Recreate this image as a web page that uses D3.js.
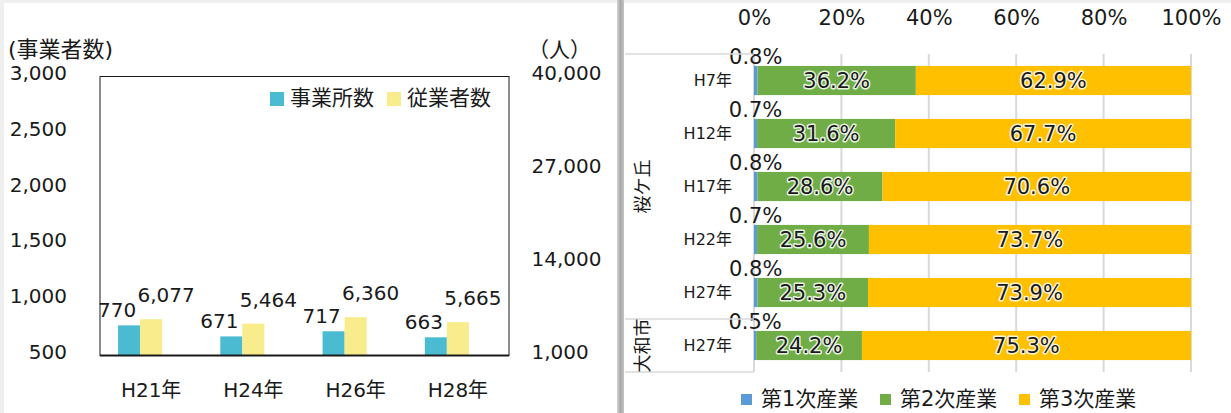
<!DOCTYPE html>
<html>
<head>
<meta charset="utf-8">
<script src="https://cdn.jsdelivr.net/npm/d3@7"></script>
<style>
  body { margin: 0; background: #fff; }
  svg { display: block; font-family: "DejaVu Sans", "Noto Sans CJK JP", sans-serif; }
</style>
</head>
<body>
<svg id="chart" width="1231" height="413"></svg>
<script>
// left chart: establishments / employees
var estCats = ['H21年', 'H24年', 'H26年', 'H28年'];
var establishments = [770, 671, 717, 663];
var employees = [6077, 5464, 6360, 5665];
var leftTicks = [500, 1000, 1500, 2000, 2500, 3000];
var rightTicks = [1000, 14000, 27000, 40000];

// right chart: industry shares
var areaGroups = ['桜ケ丘', '桜ケ丘', '桜ケ丘', '桜ケ丘', '桜ケ丘', '大和市'];
var yearLabels = ['H7年', 'H12年', 'H17年', 'H22年', 'H27年', 'H27年'];
var primary = [0.8, 0.7, 0.8, 0.7, 0.8, 0.5];
var secondary = [36.2, 31.6, 28.6, 25.6, 25.3, 24.2];
var tertiary = [62.9, 67.7, 70.6, 73.7, 73.9, 75.3];
var industryNames = ['第1次産業', '第2次産業', '第3次産業'];
var pctTicks = [0, 20, 40, 60, 80, 100];

var svg = d3.select('#chart');
var defs = svg.append('defs');

// frame / background strips
svg.append('rect').attr('x', 0).attr('y', 0).attr('width', 1231).attr('height', 3).attr('fill', '#efefef');
svg.append('rect').attr('x', 0).attr('y', 0).attr('width', 4).attr('height', 413).attr('fill', '#efefef');
var grad = defs.append('linearGradient').attr('id', 'divider');
grad.append('stop').attr('offset', '0%').attr('stop-color', '#d4d4d4');
grad.append('stop').attr('offset', '50%').attr('stop-color', '#a9a9a9');
grad.append('stop').attr('offset', '100%').attr('stop-color', '#c4c4c4');
svg.append('rect').attr('x', 617).attr('y', 0).attr('width', 7).attr('height', 413).attr('fill', 'url(#divider)');

/* ---------- left chart ---------- */
var L = {left: 100, right: 509, top: 76.5, bottom: 355.5};
var x0 = d3.scaleBand().domain(estCats).range([L.left, L.right]).padding(0);
var x1 = d3.scaleBand().domain(['est', 'emp', 'spare']).range([0, x0.bandwidth()]).paddingInner(0).paddingOuter(0.82);
var yL = d3.scaleLinear().domain([500, 3000]).range([L.bottom, L.top]);
var yR = d3.scaleLinear().domain([1000, 40000]).range([L.bottom, L.top]);

var left = svg.append('g');
left.append('rect')
    .attr('x', L.left).attr('y', L.top)
    .attr('width', L.right - L.left).attr('height', L.bottom - L.top)
    .attr('fill', 'none').attr('stroke', '#1a1a1a').attr('stroke-width', 1);

var groups = left.selectAll('.grp').data(estCats).enter().append('g')
    .attr('transform', function (d) { return 'translate(' + x0(d) + ',0)'; });

groups.append('rect')
    .attr('x', x1('est')).attr('width', x1.bandwidth())
    .attr('y', function (d, i) { return yL(establishments[i]); })
    .attr('height', function (d, i) { return L.bottom - yL(establishments[i]); })
    .attr('fill', '#4bbbd1');
groups.append('rect')
    .attr('x', x1('emp')).attr('width', x1.bandwidth())
    .attr('y', function (d, i) { return yR(employees[i]); })
    .attr('height', function (d, i) { return L.bottom - yR(employees[i]); })
    .attr('fill', '#f8ec8c');

var fmt = d3.format(',');
groups.append('text')
    .attr('x', x1('est') + x1.bandwidth() / 2 - 12)
    .attr('y', function (d, i) { return yL(establishments[i]) - 8; })
    .attr('text-anchor', 'middle').attr('font-size', 20).attr('fill', '#1a1a1a')
    .text(function (d, i) { return fmt(establishments[i]); });
groups.append('text')
    .attr('x', x1('emp') + x1.bandwidth() / 2 + 15)
    .attr('y', function (d, i) { return yR(employees[i]) - 17; })
    .attr('text-anchor', 'middle').attr('font-size', 20).attr('fill', '#1a1a1a')
    .text(function (d, i) { return fmt(employees[i]); });

left.append('line')
    .attr('x1', L.left).attr('x2', L.right).attr('y1', L.bottom).attr('y2', L.bottom)
    .attr('stroke', '#1a1a1a').attr('stroke-width', 2);

function styleAxis(g, size) {
    g.select('.domain').remove();
    g.selectAll('.tick line').remove();
    g.selectAll('text').attr('font-size', size).attr('fill', '#1a1a1a')
        .attr('font-family', '"DejaVu Sans", "Noto Sans CJK JP", sans-serif');
}

left.append('g').attr('transform', 'translate(' + L.left + ',-3.5)')
    .call(d3.axisLeft(yL).tickValues(leftTicks).tickSize(0).tickPadding(33).tickFormat(fmt))
    .call(styleAxis, 20);
left.append('g').attr('transform', 'translate(' + L.right + ',-3.5)')
    .call(d3.axisRight(yR).tickValues(rightTicks).tickSize(0).tickPadding(22.5).tickFormat(fmt))
    .call(styleAxis, 20);
left.append('g').attr('transform', 'translate(0,' + (L.bottom - 2) + ')')
    .call(d3.axisBottom(x0).tickSize(0).tickPadding(29))
    .call(styleAxis, 20);

left.append('text').attr('x', 8).attr('y', 57).attr('font-size', 22).attr('fill', '#1a1a1a').text('(事業者数)');
left.append('text').attr('x', 528).attr('y', 57).attr('font-size', 21).attr('fill', '#1a1a1a').text('（人）');

// legend
var legL = [{name: '事業所数', color: '#4bbbd1', x: 270}, {name: '従業者数', color: '#f8ec8c', x: 387}];
var lg = left.selectAll('.leg').data(legL).enter().append('g')
    .attr('transform', function (d) { return 'translate(' + d.x + ',92)'; });
lg.append('rect').attr('width', 14).attr('height', 14).attr('fill', function (d) { return d.color; });
lg.append('text').attr('x', 20).attr('y', 13).attr('font-size', 21).attr('fill', '#1a1a1a')
    .text(function (d) { return d.name; });

/* ---------- right chart ---------- */
var R = {left: 754, right: 1191, top: 54, bottom: 372, labelLeft: 625};
var rows = d3.range(yearLabels.length);
var xP = d3.scaleLinear().domain([0, 1]).range([R.left, R.right]);
var yB = d3.scaleBand().domain(rows).range([R.top, R.bottom]).paddingInner(0.45).paddingOuter(0.225);
var colors = ['#5b9bd5', '#70ad47', '#ffc000'];

var right = svg.append('g');

// gridlines
right.selectAll('.grid').data(pctTicks).enter().append('line')
    .attr('x1', function (d) { return xP(d / 100); }).attr('x2', function (d) { return xP(d / 100); })
    .attr('y1', R.top).attr('y2', R.bottom)
    .attr('stroke', '#d9d9d9').attr('stroke-width', 2);

right.append('g').attr('transform', 'translate(0,' + R.top + ')')
    .call(d3.axisTop(xP).tickValues(pctTicks.map(function (d) { return d / 100; }))
        .tickSize(0).tickPadding(29).tickFormat(d3.format('.0%')))
    .call(styleAxis, 21);

// stacked data
var table = rows.map(function (i) {
    return {row: i, p1: primary[i], p2: secondary[i], p3: tertiary[i]};
});
var keys = ['p1', 'p2', 'p3'];
var raw = {p1: primary, p2: secondary, p3: tertiary};
var stacked = d3.stack().keys(keys).offset(d3.stackOffsetExpand)(table);

var layers = right.selectAll('.layer').data(stacked).enter().append('g')
    .attr('fill', function (d, i) { return colors[i]; });
layers.selectAll('rect').data(function (d) { return d; }).enter().append('rect')
    .attr('x', function (d) { return xP(d[0]); })
    .attr('width', function (d) { return xP(d[1]) - xP(d[0]); })
    .attr('y', function (d) { return yB(d.data.row); })
    .attr('height', yB.bandwidth());

// labels for the small first-sector slice, above the bar
right.selectAll('.lab1').data(stacked[0]).enter().append('text')
    .attr('x', function (d) { return (xP(d[0]) + xP(d[1])) / 2; })
    .attr('y', function (d) { return yB(d.data.row) - 2; })
    .attr('text-anchor', 'middle').attr('font-size', 21).attr('fill', '#1a1a1a')
    .text(function (d) { return d.data.p1.toFixed(1) + '%'; });

// labels inside bars
[1, 2].forEach(function (k) {
    right.selectAll('.lab' + k).data(stacked[k]).enter().append('text')
        .attr('x', function (d) { return (xP(d[0]) + xP(d[1])) / 2; })
        .attr('y', function (d) { return yB(d.data.row) + yB.bandwidth() / 2; })
        .attr('dy', '0.36em')
        .attr('text-anchor', 'middle').attr('font-size', 21).attr('fill', '#1a1a1a')
        .attr('stroke', '#fff').attr('stroke-width', 3).attr('stroke-opacity', 0.85)
        .attr('stroke-linejoin', 'round').attr('paint-order', 'stroke')
        .text(function (d) { return raw[keys[k]][d.data.row].toFixed(1) + '%'; });
});

// category axis (years)
right.append('g').attr('transform', 'translate(' + R.left + ',0)')
    .call(d3.axisLeft(yB).tickSize(0).tickPadding(22).tickFormat(function (i) { return yearLabels[i]; }))
    .call(styleAxis, 16);

// group labels and separators
var groupNames = Array.from(new Set(areaGroups));
var step = yB.step();
var bounds = groupNames.map(function (g) {
    var idx = rows.filter(function (i) { return areaGroups[i] === g; });
    var y0 = yB(idx[0]) - yB.paddingInner() * step / 2;
    var y1 = yB(idx[idx.length - 1]) + yB.bandwidth() + yB.paddingInner() * step / 2;
    return {name: g, y0: y0, y1: y1};
});
var seps = [R.top].concat(bounds.map(function (b) { return b.y1; }));
right.selectAll('.sep').data(seps).enter().append('line')
    .attr('x1', R.labelLeft).attr('x2', R.left)
    .attr('y1', function (d) { return d; }).attr('y2', function (d) { return d; })
    .attr('stroke', '#d9d9d9').attr('stroke-width', 1.5);
right.selectAll('.grpLabel').data(bounds).enter().append('text')
    .attr('transform', function (d) { return 'translate(649,' + (d.y0 + d.y1) / 2 + ') rotate(-90)'; })
    .attr('text-anchor', 'middle').attr('font-size', 18).attr('fill', '#1a1a1a')
    .text(function (d) { return d.name; });

// legend
var legR = right.selectAll('.legR').data(industryNames).enter().append('g')
    .attr('transform', function (d, i) { return 'translate(' + (741 + i * 139) + ',393)'; });
legR.append('rect').attr('width', 11).attr('height', 11).attr('y', 1)
    .attr('fill', function (d, i) { return colors[i]; });
legR.append('text').attr('x', 20).attr('y', 13).attr('font-size', 21).attr('fill', '#1a1a1a')
    .text(function (d) { return d; });
</script>
</body>
</html>
